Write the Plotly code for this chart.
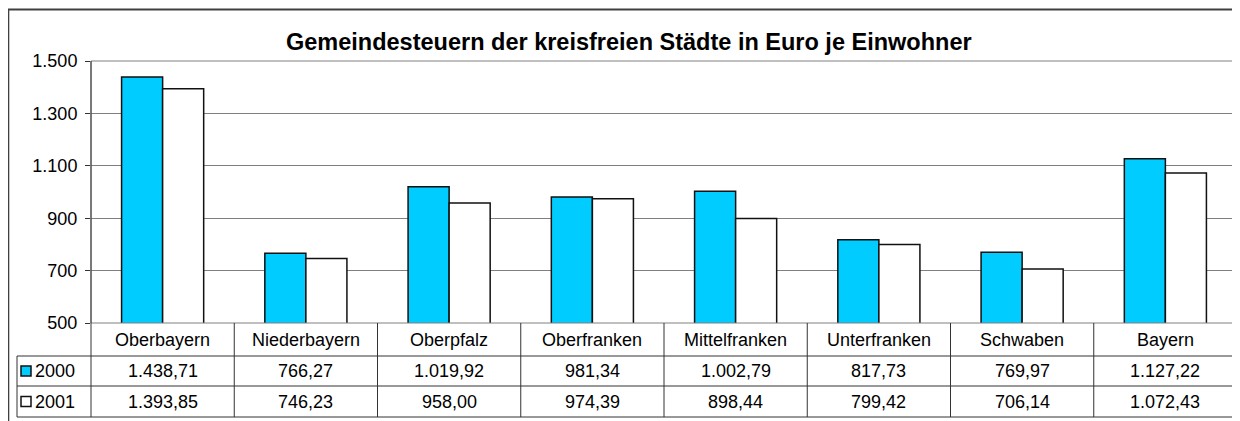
import plotly.graph_objects as go

categories = ["Oberbayern", "Niederbayern", "Oberpfalz", "Oberfranken",
              "Mittelfranken", "Unterfranken", "Schwaben", "Bayern"]
values_2000 = [1438.71, 766.27, 1019.92, 981.34, 1002.79, 817.73, 769.97, 1127.22]
values_2001 = [1393.85, 746.23, 958.00, 974.39, 898.44, 799.42, 706.14, 1072.43]
series_names = ["2000", "2001"]
title_text = "Gemeindesteuern der kreisfreien Städte in Euro je Einwohner"
y_ticks = [500, 700, 900, 1100, 1300, 1500]

# page offset (body margin of the html page)
OFF = 8
W, H = 1240 - OFF, 421 - OFF
# plot area in page pixels
PX0, PX1, PY0, PY1 = 91, 1237, 61, 323
FONT = "Liberation Sans, Arial, sans-serif"
FS = 18
BLUE = "#00CCFF"
LINE = "#333333"


def fx(px):
    return (px - PX0) / (PX1 - PX0)


def fy(py):
    return (PY1 - py) / (PY1 - PY0)


def de(v):
    s = f"{v:,.2f}"
    return s.replace(",", "X").replace(".", ",").replace("X", ".")


fig = go.Figure()
fig.add_trace(go.Bar(x=categories, y=values_2000, name=series_names[0],
                     marker=dict(color=BLUE, line=dict(color="#111111", width=1.5))))
fig.add_trace(go.Bar(x=categories, y=values_2001, name=series_names[1],
                     marker=dict(color="#FFFFFF", line=dict(color="#111111", width=1.5))))

shapes = []
annotations = []

# outer frame
shapes.append(dict(type="rect", xref="paper", yref="paper",
                   x0=fx(8.3), x1=fx(1260), y0=fy(9.5), y1=fy(440),
                   line=dict(color="#404040", width=2), layer="below"))
# plot area border
shapes.append(dict(type="rect", xref="paper", yref="paper",
                   x0=0, x1=1, y0=0, y1=1,
                   line=dict(color="#808080", width=1), layer="above"))

# table lines
row_y = [356, 386, 417]
for ry in row_y:
    shapes.append(dict(type="line", xref="paper", yref="paper",
                       x0=fx(17), x1=fx(1237), y0=fy(ry), y1=fy(ry),
                       line=dict(color=LINE, width=1)))
shapes.append(dict(type="line", xref="paper", yref="paper",
                   x0=fx(17), x1=fx(17), y0=fy(356), y1=fy(417),
                   line=dict(color=LINE, width=1)))
shapes.append(dict(type="line", xref="paper", yref="paper",
                   x0=0, x1=0, y0=1, y1=fy(417),
                   line=dict(color=LINE, width=1)))
shapes.append(dict(type="line", xref="paper", yref="paper",
                   x0=1, x1=1, y0=fy(323), y1=fy(417),
                   line=dict(color=LINE, width=1)))
for i in range(len(categories) - 1):
    shapes.append(dict(type="line", xref="x", yref="paper",
                       x0=i + 0.5, x1=i + 0.5, y0=fy(323), y1=fy(417),
                       line=dict(color=LINE, width=1)))

# legend keys in table
for yc, col in [(371, BLUE), (401.5, "#FFFFFF")]:
    shapes.append(dict(type="rect", xref="paper", yref="paper",
                       x0=fx(21), x1=fx(31), y0=fy(yc - 5), y1=fy(yc + 5),
                       fillcolor=col, line=dict(color="#111111", width=1.5)))

for name, yc in zip(series_names, [371, 401.5]):
    annotations.append(dict(text=name, xref="paper", yref="paper",
                            x=fx(33), y=fy(yc), xanchor="left", yanchor="middle",
                            showarrow=False, font=dict(family=FONT, size=FS, color="#000")))

for i, c in enumerate(categories):
    annotations.append(dict(text=c, xref="x", yref="paper", x=i, y=fy(339.5),
                            xanchor="center", yanchor="middle", showarrow=False,
                            font=dict(family=FONT, size=FS, color="#000")))
    annotations.append(dict(text=de(values_2000[i]), xref="x", yref="paper", x=i, y=fy(371),
                            xanchor="center", yanchor="middle", showarrow=False,
                            font=dict(family=FONT, size=FS, color="#000")))
    annotations.append(dict(text=de(values_2001[i]), xref="x", yref="paper", x=i, y=fy(401.5),
                            xanchor="center", yanchor="middle", showarrow=False,
                            font=dict(family=FONT, size=FS, color="#000")))

annotations.append(dict(text="<b>" + title_text + "</b>", xref="paper", yref="paper",
                        x=fx(629), y=fy(42), xanchor="center", yanchor="middle",
                        showarrow=False, font=dict(family=FONT, size=23.5, color="#000")))

fig.update_layout(
    width=W, height=H,
    margin=dict(l=PX0 - OFF, r=W - (PX1 - OFF), t=PY0 - OFF, b=H - (PY1 - OFF),
                autoexpand=False),
    paper_bgcolor="white", plot_bgcolor="white",
    separators=",.",
    barmode="group", bargap=0.427, bargroupgap=0,
    showlegend=False,
    shapes=shapes, annotations=annotations,
    xaxis=dict(range=[-0.5, len(categories) - 0.5], showticklabels=False,
               showgrid=False, zeroline=False, showline=False, ticks=""),
    yaxis=dict(range=[500, 1500], tickvals=y_ticks, tickformat=",.0f",
               showgrid=True, gridcolor="#808080", gridwidth=1,
               zeroline=False, showline=False, ticks="outside", ticklen=5,
               tickcolor=LINE, ticklabelstandoff=4,
               tickfont=dict(family=FONT, size=FS, color="#000")),
)

fig.write_html("out.html")
